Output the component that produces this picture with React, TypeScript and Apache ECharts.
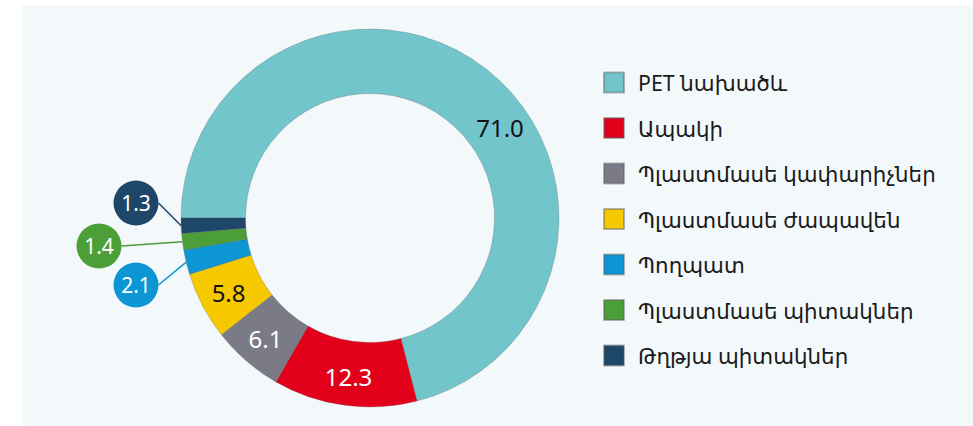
import React, { useEffect, useRef } from "react";
import * as echarts from "echarts";

const categories = [
  "PET նախածև",
  "Ապակի",
  "Պլաստմասե կափարիչներ",
  "Պլաստմասե ժապավեն",
  "Պողպատ",
  "Պլաստմասե պիտակներ",
  "Թղթյա պիտակներ",
];
const values = [71.0, 12.3, 6.1, 5.8, 2.1, 1.4, 1.3];
const colors = ["#72c5cb", "#e2001a", "#7b7b88", "#f5c800", "#0c96d4", "#4b9e38", "#1d4668"];
const labelColors = ["#111111", "#ffffff", "#ffffff", "#111111", "#ffffff", "#ffffff", "#ffffff"];
// custom label anchor positions (pixels) for labels that are moved off their default spot
const labelSpots: Record<number, [number, number]> = {
  0: [500, 127],
  4: [136, 285],
  5: [99, 246],
  6: [136, 203],
};

export default function App() {
  const ref = useRef<HTMLDivElement>(null);
  useEffect(() => {
    if (!ref.current) return;
    const chart = echarts.init(ref.current, undefined, { renderer: "svg" });
    const numFont = "'Noto Sans', 'Open Sans', sans-serif";
    const data = categories.map((name, i) => {
      const small = i >= 4;
      return {
        name,
        value: values[i],
        itemStyle: { color: colors[i] },
        label: small
          ? {
              show: true,
              position: "outside",
              color: "#ffffff",
              fontFamily: numFont,
              fontSize: 21,
              backgroundColor: colors[i],
              width: 45,
              height: 45,
              lineHeight: 45,
              borderRadius: 22.5,
              align: "center",
              verticalAlign: "middle",
              padding: 0,
            }
          : {
              show: true,
              position: "inside",
              color: labelColors[i],
              fontFamily: numFont,
              fontSize: 24,
            },
        labelLine: small
          ? { show: true, length: 10, length2: 0, lineStyle: { color: colors[i], width: 1.5 } }
          : { show: false },
      };
    });
    chart.setOption({
      animation: false,
      graphic: [
        {
          type: "rect",
          silent: true,
          z: -10,
          shape: { x: 22, y: 5, width: 951, height: 421 },
          style: { fill: "#f3f8fb" },
        },
      ],
      legend: {
        orient: "vertical",
        left: 603,
        top: 71.5,
        padding: 0,
        itemWidth: 20,
        itemHeight: 20,
        itemGap: 23.5,
        icon: "rect",
        data: categories,
        textStyle: {
          fontFamily: "'Noto Sans', 'DejaVu Sans', sans-serif",
          fontSize: 21.4,
          lineHeight: 22,
          color: "#1a1a1a",
          padding: [0, 0, 0, 9],
        },
      },
      series: [
        {
          type: "pie",
          center: [370, 218],
          radius: [124.5, 189],
          startAngle: 180,
          clockwise: true,
          avoidLabelOverlap: false,
          itemStyle: { borderColor: "rgba(90,90,90,0.45)", borderWidth: 0.6 },
          emphasis: { disabled: true },
          label: {
            formatter: (p: any) => Number(p.value).toFixed(1),
          },
          labelLayout: (p: any) => {
            const spot = labelSpots[p.dataIndex];
            if (!spot) return {};
            return { x: spot[0], y: spot[1], align: "center", verticalAlign: "middle" };
          },
          data,
        },
      ],
    });
    return () => chart.dispose();
  }, []);
  return (
    <div
      ref={ref}
      style={{ position: "fixed", left: 0, top: 0, width: 973, height: 426, background: "#ffffff" }}
    />
  );
}
